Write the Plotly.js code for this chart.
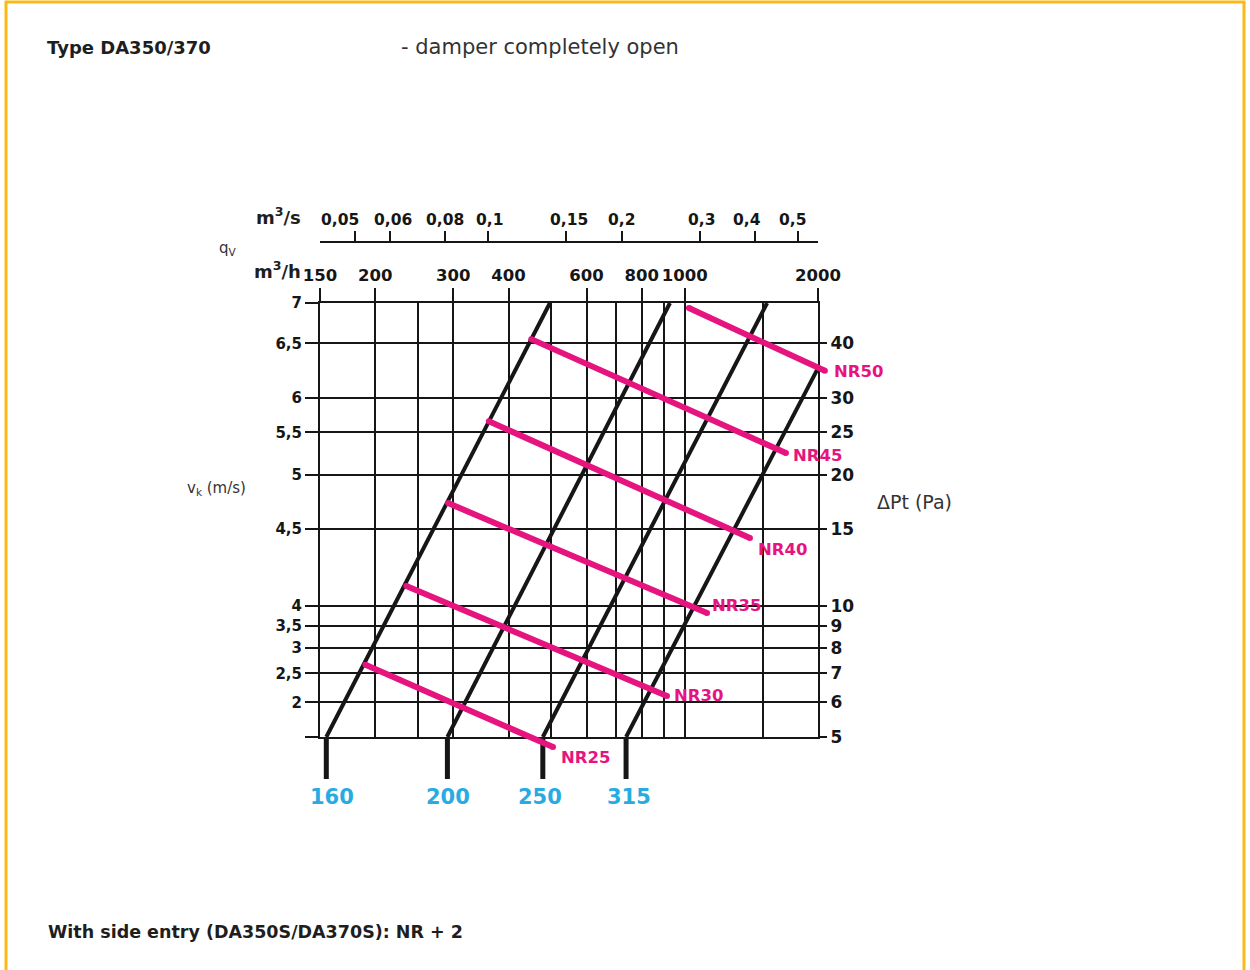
<!DOCTYPE html>
<html><head><meta charset="utf-8">
<script src="https://cdn.plot.ly/plotly-3.0.1.min.js"></script>
<style>html,body{margin:0;padding:0;background:#fff}#chart{width:1250px;height:970px}</style>
</head><body><div id="chart"></div>
<script>
// ---------------- DATA ----------------
const flowTicksM3h = [150, 200, 300, 400, 600, 800, 1000, 2000];
const flowTickTextM3h = ['150', '200', '300', '400', '600', '800', '1000', '2000'];
const flowGridM3h = [250, 500, 700, 900, 1500];
const flowTicksM3s = [0.05, 0.06, 0.08, 0.1, 0.15, 0.2, 0.3, 0.4, 0.5];
const flowTickTextM3s = ['0,05', '0,06', '0,08', '0,1', '0,15', '0,2', '0,3', '0,4', '0,5'];
const pressureTicksPa = [5, 6, 7, 8, 9, 10, 15, 20, 25, 30, 40];
const pressureTickText = ['5', '6', '7', '8', '9', '10', '15', '20', '25', '30', '40'];
const velocityTickPa = [49.5, 40, 30, 25, 20, 15, 10, 9, 8, 7, 6, 5];
const velocityTickText = ['7', '6,5', '6', '5,5', '5', '4,5', '4', '3,5', '3', '2,5', '2', ' '];

const ductSizes = ['160', '200', '250', '315'];
const ductQStart = [155, 291, 478, 737];
const ductPaStart = [5, 5, 5, 5];
const ductQEnd = [496, 926, 1535, 2000];
const ductPaEnd = [49.5, 49.5, 49.5, 35.1];

const nrLabels = ['NR25', 'NR30', 'NR35', 'NR40', 'NR45', 'NR50'];
const nrQStart = [190, 235, 292, 361, 450, 1022];
const nrPaStart = [7.32, 11.1, 17.2, 26.5, 40.9, 48.2];
const nrQEnd = [504, 912, 1123, 1404, 1693, 2073];
const nrPaEnd = [4.74, 6.21, 9.62, 14.3, 22.4, 34.6];

// ---------------- LAYOUT GEOMETRY ----------------
const W = 1250, H = 970;
const gL = 320, gR = 818, gT = 303, gB = 737;   // grid box in px
const qMin = 150, qMax = 2000, paMin = 5, paMax = 49.5;
const px = x => x / W;
const py = y => 1 - y / H;
const L = Math.log10;

const xr = [L(qMin), L(qMax)], yr = [L(paMin), L(paMax)];
const xPerDec = (gR - gL) / (xr[1] - xr[0]);
const yPerDec = (gB - gT) / (yr[1] - yr[0]);
const x3range = [xr[0] - gL / xPerDec, xr[0] + (W - gL) / xPerDec];
const y3range = [yr[0] - (H - gB) / yPerDec, yr[1] + gT / yPerDec];
const stubPa = Math.pow(10, yr[0] - (779 - gB) / yPerDec);

const INK = '#161616', MAG = '#e5147f', BLUE = '#29abe2';
const FONT = 'DejaVu Sans';

const traces = [];
// duct lines
ductSizes.forEach((d, i) => {
  traces.push({x: [ductQStart[i], ductQEnd[i]], y: [ductPaStart[i], ductPaEnd[i]],
    xaxis: 'x3', yaxis: 'y3', mode: 'lines', line: {color: INK, width: 4},
    hoverinfo: 'skip', showlegend: false});
  traces.push({x: [ductQStart[i], ductQStart[i]], y: [ductPaStart[i], stubPa],
    xaxis: 'x3', yaxis: 'y3', mode: 'lines', line: {color: INK, width: 5},
    hoverinfo: 'skip', showlegend: false});
});
// NR lines
nrLabels.forEach((n, i) => {
  traces.push({x: [nrQStart[i], nrQEnd[i]], y: [nrPaStart[i], nrPaEnd[i]],
    xaxis: 'x3', yaxis: 'y3', mode: 'lines+markers',
    line: {color: MAG, width: 6}, marker: {color: MAG, size: 6},
    hoverinfo: 'skip', showlegend: false});
});
// invisible traces to activate the main axes
traces.push({x: [qMin, qMax], y: [paMin, paMax], mode: 'markers', marker: {opacity: 0},
  hoverinfo: 'skip', showlegend: false});
traces.push({x: [qMin / 3600, qMax / 3600], y: [paMin, paMax], xaxis: 'x2', yaxis: 'y2', mode: 'markers',
  marker: {opacity: 0}, hoverinfo: 'skip', showlegend: false});

const nrShift = [[6, -10], [5, 0], [3, 8], [6, -11], [5, -2], [7, -1]];
const ductLabelShift = [6, 1, -3, 3];
const m3sLabelShift = [-15, 3, 0, 1, 3, 0, 2, -8, -5];
const annotations = [];
nrLabels.forEach((n, i) => {
  annotations.push({xref: 'x3', yref: 'y3', x: L(nrQEnd[i]), y: L(nrPaEnd[i]),
    xshift: nrShift[i][0], yshift: nrShift[i][1], xanchor: 'left', yanchor: 'middle',
    text: n, showarrow: false, font: {family: FONT, size: 16.5, color: MAG, weight: 'bold'}});
});
ductSizes.forEach((d, i) => {
  annotations.push({xref: 'x3', yref: 'paper', x: L(ductQStart[i]), y: py(797),
    xshift: ductLabelShift[i], xanchor: 'center', yanchor: 'middle', text: d, showarrow: false,
    font: {family: FONT, size: 21, color: BLUE, weight: 'bold'}});
});
flowTicksM3s.forEach((v, i) => {
  annotations.push({xref: 'x2', yref: 'paper', x: L(v), y: py(220),
    xshift: m3sLabelShift[i], xanchor: 'center', yanchor: 'middle', text: flowTickTextM3s[i],
    showarrow: false, font: {family: FONT, size: 15.5, color: INK, weight: 'bold'}});
});
function txt(t, x, y, size, bold, color, anchor) {
  annotations.push({xref: 'paper', yref: 'paper', x: px(x), y: py(y), xanchor: anchor || 'left',
    yanchor: 'middle', text: t, showarrow: false,
    font: {family: FONT, size: size, color: color || '#1e1e1e', weight: bold ? 'bold' : 'normal'}});
}
txt('Type DA350/370', 45, 47, 18, true);
txt('- damper completely open', 399, 47, 21, false, '#333');
txt('With side entry (DA350S/DA370S): NR + 2', 46, 932, 17.5, true);
txt('m<sup>3</sup>/s', 254, 216, 18, true);
txt('m<sup>3</sup>/h', 252, 270, 18, true);
txt('q<sub>V</sub>', 217, 249, 15, false, '#333');
txt('v<sub>k</sub> (m/s)', 185, 488, 15, false, '#333');
txt('ΔPt (Pa)', 875, 502, 19, false, '#333');

const tickFont = s => ({family: FONT, size: s, color: INK, weight: 'bold'});

const layout = {
  width: W, height: H, margin: {l: 0, r: 0, t: 0, b: 0},
  paper_bgcolor: '#ffffff', plot_bgcolor: 'rgba(0,0,0,0)', showlegend: false,
  xaxis: {type: 'log', domain: [px(gL), px(gR)], range: xr, anchor: 'y', side: 'top',
    tickmode: 'array', tickvals: flowTicksM3h, ticktext: flowTickTextM3h, tickangle: 0,
    ticks: 'outside', ticklen: 13, tickwidth: 2, tickcolor: INK, tickfont: tickFont(16.5),
    showline: true, mirror: true, linecolor: INK, linewidth: 2,
    showgrid: true, gridcolor: INK, gridwidth: 2, zeroline: false,
    minor: {tickmode: 'array', tickvals: flowGridM3h, showgrid: true, gridcolor: INK, gridwidth: 2, ticks: ''},
    fixedrange: true},
  xaxis2: {type: 'log', overlaying: 'x', anchor: 'free', position: py(242), side: 'top',
    range: [L(qMin / 3600), L(qMax / 3600)],
    tickmode: 'array', tickvals: flowTicksM3s, showticklabels: false,
    ticks: 'outside', ticklen: 10, tickwidth: 2, tickcolor: INK,
    showline: true, linecolor: INK, linewidth: 2, showgrid: false, zeroline: false, fixedrange: true},
  yaxis: {type: 'log', domain: [py(gB), py(gT)], range: yr, anchor: 'x', side: 'left',
    tickmode: 'array', tickvals: velocityTickPa, ticktext: velocityTickText,
    ticks: 'outside', ticklen: 13, tickwidth: 2, tickcolor: INK, tickfont: tickFont(15),
    showline: true, mirror: true, linecolor: INK, linewidth: 2,
    showgrid: true, gridcolor: INK, gridwidth: 2, zeroline: false, fixedrange: true},
  yaxis2: {type: 'log', overlaying: 'y', anchor: 'x', side: 'right', range: yr,
    tickmode: 'array', tickvals: pressureTicksPa, ticktext: pressureTickText,
    ticks: 'outside', ticklen: 8, tickwidth: 2, tickcolor: INK, tickfont: tickFont(17),
    showline: false, showgrid: false, zeroline: false, fixedrange: true},
  xaxis3: {type: 'log', domain: [0, 1], range: x3range, anchor: 'y3', visible: false, fixedrange: true},
  yaxis3: {type: 'log', domain: [0, 1], range: y3range, anchor: 'x3', visible: false, fixedrange: true},
  annotations: annotations,
  shapes: [{type: 'rect', xref: 'paper', yref: 'paper', x0: px(6), x1: px(1244), y0: py(975), y1: py(2),
    line: {color: '#fbb917', width: 3}, fillcolor: 'rgba(0,0,0,0)', layer: 'above'}]
};

Plotly.newPlot('chart', traces, layout, {staticPlot: true});
</script></body></html>
